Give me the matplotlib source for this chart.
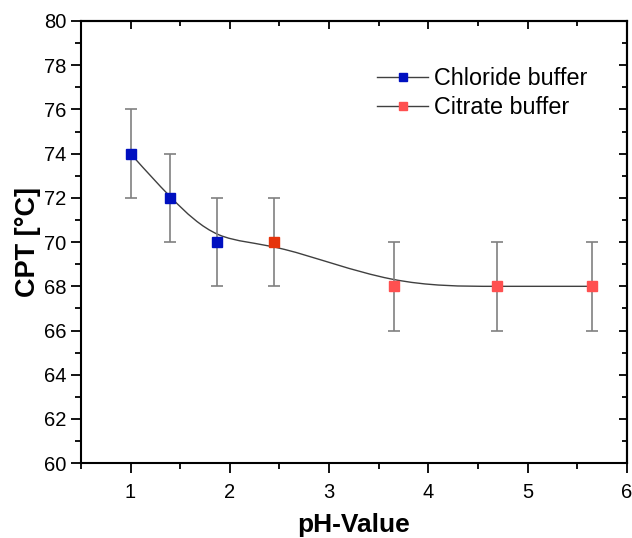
import numpy as np
import matplotlib
matplotlib.use('Agg')
import matplotlib.pyplot as plt
from matplotlib import ticker
from matplotlib.path import Path
from matplotlib.patches import PathPatch
from matplotlib.lines import Line2D

plt.rcParams['font.family'] = ['Liberation Sans', 'DejaVu Sans']

# data
chloride_ph = [1.0, 1.4, 1.87]
chloride_cpt = [74, 72, 70]
citrate_ph = [2.45, 3.65, 4.69, 5.65]
citrate_cpt = [70, 68, 68, 68]
cpt_err = 2

BLUE = '#0010c0'
RED = '#ff5050'
RED_DARK = '#e6340c'
GRAY = '#808080'


def bspline_path(xs, ys):
  # cubic uniform B-spline with the points as control points, clamped ends
  pts = np.column_stack([xs, ys])
  pts = np.vstack([pts[:1], pts[:1], pts, pts[-1:], pts[-1:]])
  verts, codes = [], []
  for i in range(1, len(pts) - 2):
    p0, p1, p2, p3 = pts[i - 1], pts[i], pts[i + 1], pts[i + 2]
    b0 = (p0 + 4 * p1 + p2) / 6
    b1 = (2 * p1 + p2) / 3
    b2 = (p1 + 2 * p2) / 3
    b3 = (p1 + 4 * p2 + p3) / 6
    if not verts:
      verts.append(b0)
      codes.append(Path.MOVETO)
    verts += [b1, b2, b3]
    codes += [Path.CURVE4] * 3
  return Path(verts, codes)


fig = plt.figure(figsize=(6.32, 5.38), dpi=100)
ax = fig.add_axes([0.128, 0.139, 0.864, 0.822])

all_ph = chloride_ph + citrate_ph
all_cpt = chloride_cpt + citrate_cpt
ax.add_patch(PathPatch(
    bspline_path(all_ph, all_cpt), facecolor='none', edgecolor='#404040',
    lw=1.0, zorder=2))

ax.errorbar(all_ph, all_cpt, yerr=cpt_err, fmt='none', ecolor=GRAY,
            elinewidth=1.2, capsize=4.5, capthick=1.2, zorder=3)
ax.plot(chloride_ph, chloride_cpt, 's', color=BLUE, ms=6.5, zorder=4)
ax.plot(citrate_ph[1:], citrate_cpt[1:], 's', color=RED, ms=6.5, zorder=4)
ax.plot(citrate_ph[:1], citrate_cpt[:1], 's', color=RED_DARK, ms=6.5,
        zorder=4)

ax.set_xlim(0.5, 6)
ax.set_ylim(60, 80)
ax.xaxis.set_major_locator(ticker.MultipleLocator(1))
ax.xaxis.set_minor_locator(ticker.MultipleLocator(0.5))
ax.yaxis.set_major_locator(ticker.MultipleLocator(2))
ax.yaxis.set_minor_locator(ticker.MultipleLocator(1))
ax.tick_params(which='both', direction='out', labelsize=14.5, width=1.3)
ax.tick_params(which='major', length=7)
ax.tick_params(which='minor', length=4)
ax.tick_params(axis='x', pad=7)
for s in ax.spines.values():
  s.set_linewidth(1.5)

# inward ticks on top and right
sec_x = ax.secondary_xaxis('top')
sec_x.xaxis.set_major_locator(ticker.MultipleLocator(1))
sec_x.xaxis.set_minor_locator(ticker.MultipleLocator(0.5))
sec_x.tick_params(which='both', direction='in', labeltop=False, width=1.3)
sec_x.tick_params(which='major', length=6)
sec_x.tick_params(which='minor', length=3.5)
sec_x.spines['top'].set_linewidth(1.5)
sec_y = ax.secondary_yaxis('right')
sec_y.yaxis.set_major_locator(ticker.MultipleLocator(2))
sec_y.yaxis.set_minor_locator(ticker.MultipleLocator(1))
sec_y.tick_params(which='both', direction='in', labelright=False, width=1.3)
sec_y.tick_params(which='major', length=6)
sec_y.tick_params(which='minor', length=3.5)
sec_y.spines['right'].set_linewidth(1.5)

ax.set_xlabel('pH-Value', fontsize=19, fontweight='bold', labelpad=8)
ax.set_ylabel('CPT [°C]', fontsize=19.5, fontweight='bold', labelpad=2)

handles = [
    Line2D([], [], color='#404040', lw=1, marker='s', ms=5.5,
           markerfacecolor=BLUE, markeredgecolor=BLUE),
    Line2D([], [], color='#404040', lw=1, marker='s', ms=5.5,
           markerfacecolor=RED, markeredgecolor=RED),
]
ax.legend(handles, ['Chloride buffer', 'Citrate buffer'], frameon=False,
          fontsize=16.8, handlelength=2.2, handletextpad=0.26,
          labelspacing=0.25, borderpad=0, borderaxespad=0,
          loc='upper left', bbox_to_anchor=(0.542, 0.896))

fig.savefig('out.png', dpi=100)
